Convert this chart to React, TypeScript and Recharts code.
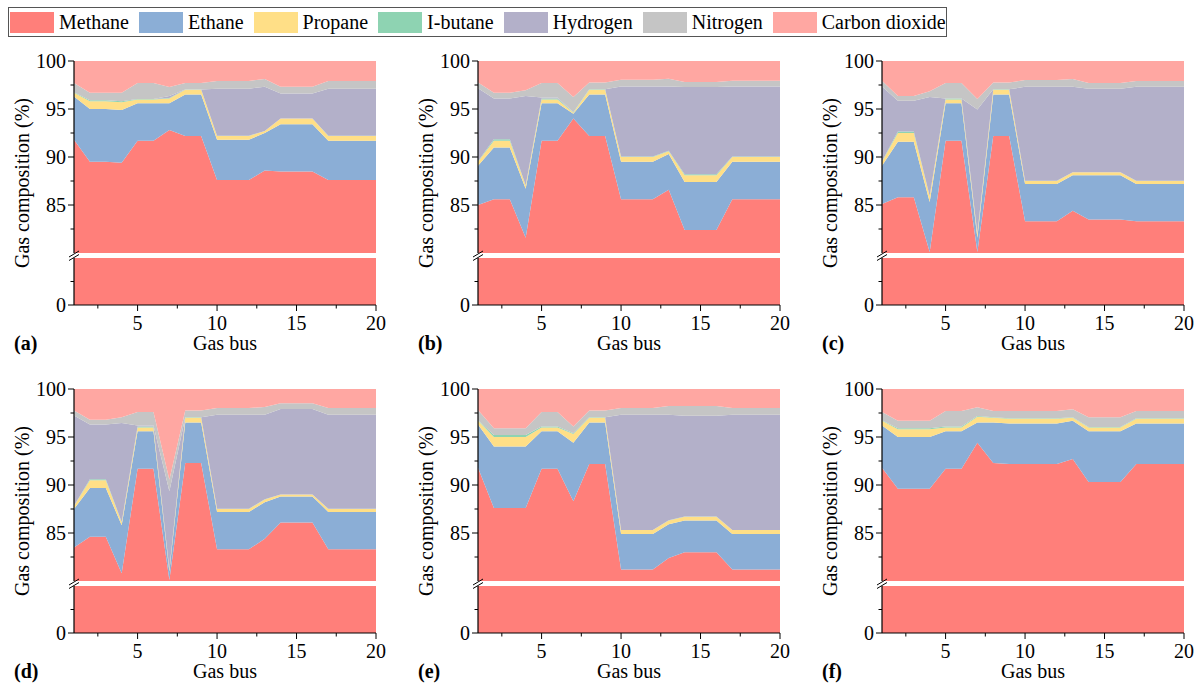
import React from "react";
import { AreaChart, Area, XAxis, YAxis } from "recharts";

const BUSES = [1, 2, 3, 4, 5, 6, 7, 8, 9, 10, 11, 12, 13, 14, 15, 16, 17, 18, 19, 20];

const GAS_KEYS = ["methane", "ethane", "propane", "ibutane", "hydrogen", "nitrogen", "co2"];
const GAS_NAMES = ["Methane", "Ethane", "Propane", "I-butane", "Hydrogen", "Nitrogen", "Carbon dioxide"];
const GAS_COLORS = ["#FF7F7A", "#8BAED6", "#FFDF87", "#8ED3B2", "#B3B0C9", "#C5C5C5", "#FFA7A2"];

const Y_TOP_TICKS = [82.5, 85, 87.5, 90, 92.5, 95, 97.5, 100];
const Y_LOW_TICKS = [0, 40];
const Y_LABELS = [0, 85, 90, 95, 100];
const X_TICKS = [2.5, 5, 7.5, 10, 12.5, 15, 17.5, 20];
const X_LABELS = [5, 10, 15, 20];

// (a)
const methaneA = [91.8, 89.5, 89.5, 89.4, 91.7, 91.7, 92.8, 92.2, 92.2, 87.6, 87.6, 87.6, 88.6, 88.5, 88.5, 88.5, 87.6, 87.6, 87.6, 87.6];
const ethaneA = [4.5, 5.5, 5.5, 5.5, 3.9, 3.9, 2.8, 4.3, 4.3, 4.2, 4.2, 4.2, 3.9, 4.9, 4.9, 4.9, 4.1, 4.1, 4.1, 4.1];
const propaneA = [0.4, 0.8, 0.8, 0.8, 0.4, 0.4, 0.5, 0.5, 0.5, 0.4, 0.4, 0.4, 0.2, 0.6, 0.6, 0.6, 0.5, 0.5, 0.5, 0.5];
const ibutaneA = [0.05, 0.1, 0.1, 0.1, 0.05, 0.05, 0.05, 0.02, 0.02, 0.02, 0.02, 0.02, 0.02, 0.02, 0.02, 0.02, 0.02, 0.02, 0.02, 0.02];
const hydrogenA = [0, 0, 0, 0, 0, 0, 0.2, 0, 0, 4.9, 4.9, 4.9, 4.6, 2.6, 2.6, 2.6, 4.9, 4.9, 4.9, 4.9];
const nitrogenA = [0.95, 0.8, 0.8, 0.9, 1.65, 1.65, 0.95, 0.7, 0.7, 0.8, 0.8, 0.8, 0.8, 0.7, 0.7, 0.7, 0.8, 0.8, 0.8, 0.8];
const co2A = [2.3, 3.3, 3.3, 3.3, 2.3, 2.3, 2.7, 2.3, 2.3, 2.1, 2.1, 2.1, 1.9, 2.7, 2.7, 2.7, 2.1, 2.1, 2.1, 2.1];

// (b)
const methaneB = [85.0, 85.6, 85.6, 81.6, 91.7, 91.7, 94.0, 92.2, 92.2, 85.6, 85.6, 85.6, 86.6, 82.4, 82.4, 82.4, 85.6, 85.6, 85.6, 85.6];
const ethaneB = [4.1, 5.4, 5.4, 5.1, 3.9, 3.9, 0.5, 4.3, 4.3, 3.9, 3.9, 3.9, 3.7, 5.0, 5.0, 5.0, 3.9, 3.9, 3.9, 3.9];
const propaneB = [0.4, 0.7, 0.7, 0.3, 0.4, 0.4, 0.1, 0.5, 0.5, 0.5, 0.5, 0.5, 0.3, 0.7, 0.7, 0.7, 0.5, 0.5, 0.5, 0.5];
const ibutaneB = [0.05, 0.15, 0.15, 0.05, 0.1, 0.1, 0.05, 0.05, 0.05, 0.05, 0.05, 0.05, 0.05, 0.1, 0.1, 0.1, 0.05, 0.05, 0.05, 0.05];
const hydrogenB = [7.6, 4.25, 4.25, 9.3, 0.1, 0.1, 0, 0, 0, 7.3, 7.3, 7.3, 6.7, 9.1, 9.1, 9.1, 7.3, 7.3, 7.3, 7.3];
const nitrogenB = [0.6, 0.6, 0.6, 0.6, 1.5, 1.5, 1.6, 0.7, 0.7, 0.7, 0.7, 0.7, 0.8, 0.5, 0.5, 0.5, 0.6, 0.6, 0.6, 0.6];
const co2B = [2.3, 3.3, 3.3, 3.1, 2.3, 2.3, 3.8, 2.3, 2.3, 2.0, 2.0, 2.0, 1.9, 2.2, 2.2, 2.2, 2.1, 2.1, 2.1, 2.1];

// (c)
const methaneC = [85.1, 85.8, 85.8, 80.1, 91.7, 91.7, 80.1, 92.2, 92.2, 83.3, 83.3, 83.3, 84.4, 83.5, 83.5, 83.5, 83.3, 83.3, 83.3, 83.3];
const ethaneC = [4.0, 5.8, 5.8, 5.2, 3.9, 3.9, 1.5, 4.3, 4.3, 3.9, 3.9, 3.9, 3.7, 4.6, 4.6, 4.6, 3.9, 3.9, 3.9, 3.9];
const propaneC = [0.4, 0.9, 0.9, 0.6, 0.4, 0.4, 0.4, 0.5, 0.5, 0.3, 0.3, 0.3, 0.3, 0.3, 0.3, 0.3, 0.3, 0.3, 0.3, 0.3];
const ibutaneC = [0.05, 0.15, 0.15, 0.05, 0.1, 0.1, 0.05, 0.05, 0.05, 0.02, 0.02, 0.02, 0.02, 0.02, 0.02, 0.02, 0.02, 0.02, 0.02, 0.02];
const hydrogenC = [7.8, 3.2, 3.2, 10.3, 0, 0, 12.9, 0, 0, 9.8, 9.8, 9.8, 8.9, 8.7, 8.7, 8.7, 9.8, 9.8, 9.8, 9.8];
const nitrogenC = [0.6, 0.5, 0.5, 0.6, 1.6, 1.6, 1.1, 0.7, 0.7, 0.7, 0.7, 0.7, 0.8, 0.6, 0.6, 0.6, 0.6, 0.6, 0.6, 0.6];
const co2C = [2.1, 3.7, 3.7, 3.2, 2.3, 2.3, 4.0, 2.3, 2.3, 2.0, 2.0, 2.0, 1.9, 2.3, 2.3, 2.3, 2.1, 2.1, 2.1, 2.1];

// (d)
const methaneD = [83.5, 84.6, 84.6, 80.8, 91.7, 91.7, 80.1, 92.3, 92.3, 83.3, 83.3, 83.3, 84.4, 86.1, 86.1, 86.1, 83.3, 83.3, 83.3, 83.3];
const ethaneD = [4.0, 5.1, 5.1, 5.0, 3.9, 3.9, 0.9, 4.2, 4.2, 3.9, 3.9, 3.9, 3.8, 2.7, 2.7, 2.7, 3.9, 3.9, 3.9, 3.9];
const propaneD = [0.3, 0.8, 0.8, 0.3, 0.4, 0.4, 0.2, 0.5, 0.5, 0.3, 0.3, 0.3, 0.3, 0.2, 0.2, 0.2, 0.3, 0.3, 0.3, 0.3];
const ibutaneD = [0.05, 0.1, 0.1, 0.05, 0.1, 0.1, 0.05, 0.05, 0.05, 0.02, 0.02, 0.02, 0.02, 0.02, 0.02, 0.02, 0.02, 0.02, 0.02, 0.02];
const hydrogenD = [9.4, 5.7, 5.7, 10.3, 0.1, 0.1, 8.1, 0, 0, 9.8, 9.8, 9.8, 8.8, 8.9, 8.9, 8.9, 9.8, 9.8, 9.8, 9.8];
const nitrogenD = [0.5, 0.5, 0.5, 0.6, 1.4, 1.4, 1.2, 0.7, 0.7, 0.7, 0.7, 0.7, 0.8, 0.6, 0.6, 0.6, 0.7, 0.7, 0.7, 0.7];
const co2D = [2.3, 3.2, 3.2, 3.0, 2.4, 2.4, 9.5, 2.3, 2.3, 2.0, 2.0, 2.0, 1.9, 1.5, 1.5, 1.5, 2.0, 2.0, 2.0, 2.0];

// (e)
const methaneE = [91.8, 87.6, 87.6, 87.6, 91.7, 91.7, 88.3, 92.2, 92.2, 81.2, 81.2, 81.2, 82.4, 83.0, 83.0, 83.0, 81.2, 81.2, 81.2, 81.2];
const ethaneE = [4.5, 6.4, 6.4, 6.4, 3.9, 3.9, 6.1, 4.3, 4.3, 3.7, 3.7, 3.7, 3.5, 3.3, 3.3, 3.3, 3.7, 3.7, 3.7, 3.7];
const propaneE = [0.4, 1.0, 1.0, 1.0, 0.4, 0.4, 0.9, 0.5, 0.5, 0.4, 0.4, 0.4, 0.4, 0.4, 0.4, 0.4, 0.4, 0.4, 0.4, 0.4];
const ibutaneE = [0.05, 0.2, 0.2, 0.2, 0.1, 0.1, 0.1, 0.05, 0.05, 0.02, 0.02, 0.02, 0.02, 0.02, 0.02, 0.02, 0.02, 0.02, 0.02, 0.02];
const hydrogenE = [0, 0, 0, 0, 0, 0, 0, 0, 0, 12.0, 12.0, 12.0, 11.0, 10.5, 10.5, 10.5, 12.0, 12.0, 12.0, 12.0];
const nitrogenE = [1.05, 0.7, 0.7, 0.7, 1.5, 1.5, 0.7, 0.7, 0.7, 0.7, 0.7, 0.7, 0.9, 1.0, 1.0, 1.0, 0.7, 0.7, 0.7, 0.7];
const co2E = [2.2, 4.1, 4.1, 4.1, 2.4, 2.4, 3.9, 2.3, 2.3, 2.0, 2.0, 2.0, 1.8, 1.8, 1.8, 1.8, 2.0, 2.0, 2.0, 2.0];

// (f)
const methaneF = [91.8, 89.6, 89.6, 89.6, 91.7, 91.7, 94.4, 92.3, 92.2, 92.2, 92.2, 92.2, 92.7, 90.3, 90.3, 90.3, 92.2, 92.2, 92.2, 92.2];
const ethaneF = [4.4, 5.4, 5.4, 5.4, 3.9, 3.9, 2.1, 4.2, 4.2, 4.2, 4.2, 4.2, 4.0, 5.3, 5.3, 5.3, 4.2, 4.2, 4.2, 4.2];
const propaneF = [0.5, 0.8, 0.8, 0.8, 0.4, 0.4, 0.6, 0.5, 0.5, 0.5, 0.5, 0.5, 0.3, 0.4, 0.4, 0.4, 0.5, 0.5, 0.5, 0.5];
const ibutaneF = [0.05, 0.1, 0.1, 0.1, 0.1, 0.1, 0.1, 0.05, 0.05, 0.05, 0.05, 0.05, 0.05, 0.05, 0.05, 0.05, 0.05, 0.05, 0.05, 0.05];
const hydrogenF = [0, 0, 0, 0, 0, 0, 0, 0, 0, 0, 0, 0, 0, 0, 0, 0, 0, 0, 0, 0];
const nitrogenF = [0.85, 0.8, 0.8, 0.8, 1.6, 1.6, 0.9, 0.65, 0.75, 0.75, 0.75, 0.75, 0.85, 1.0, 1.0, 1.0, 0.75, 0.75, 0.75, 0.75];
const co2F = [2.4, 3.3, 3.3, 3.3, 2.3, 2.3, 1.9, 2.3, 2.3, 2.3, 2.3, 2.3, 2.1, 3.0, 3.0, 3.0, 2.3, 2.3, 2.3, 2.3];

const FONT = '"Liberation Serif", "Times New Roman", serif';
const PLOT_W = 302;
const TOP_H = 192;
const GAP = 5;
const LOW_H = 47;
const AXIS_W = 60;
const TOP_PAD = 16;

function buildRows(series: number[][]) {
  return BUSES.map((bus, i) => {
    const row: Record<string, number> = { bus };
    GAS_KEYS.forEach((k, j) => {
      row[k] = series[j][i];
    });
    return row;
  });
}

const PANELS = [
  { letter: "(a)", left: 74, top: 61, rows: buildRows([methaneA, ethaneA, propaneA, ibutaneA, hydrogenA, nitrogenA, co2A]) },
  { letter: "(b)", left: 478, top: 61, rows: buildRows([methaneB, ethaneB, propaneB, ibutaneB, hydrogenB, nitrogenB, co2B]) },
  { letter: "(c)", left: 882, top: 61, rows: buildRows([methaneC, ethaneC, propaneC, ibutaneC, hydrogenC, nitrogenC, co2C]) },
  { letter: "(d)", left: 74, top: 389, rows: buildRows([methaneD, ethaneD, propaneD, ibutaneD, hydrogenD, nitrogenD, co2D]) },
  { letter: "(e)", left: 478, top: 389, rows: buildRows([methaneE, ethaneE, propaneE, ibutaneE, hydrogenE, nitrogenE, co2E]) },
  { letter: "(f)", left: 882, top: 389, rows: buildRows([methaneF, ethaneF, propaneF, ibutaneF, hydrogenF, nitrogenF, co2F]) },
];

function YTick(props: any) {
  const { x, y, payload } = props;
  const major = Y_LABELS.includes(payload.value);
  return (
    <g>
      <line x1={x - (major ? 6 : 3.5)} x2={x} y1={y} y2={y} stroke="#000" strokeWidth={1} />
      {major && (
        <text x={x - 8} y={y} dy="0.35em" textAnchor="end" fontSize={20} fontFamily={FONT} fill="#000">
          {payload.value}
        </text>
      )}
    </g>
  );
}

function XTick(props: any) {
  const { x, y, payload } = props;
  const major = X_LABELS.includes(payload.value);
  return (
    <g>
      <line x1={x} x2={x} y1={y} y2={y + (major ? 6 : 3.5)} stroke="#000" strokeWidth={1} />
      {major && (
        <text x={x} y={y + 25} textAnchor="middle" fontSize={20} fontFamily={FONT} fill="#000">
          {payload.value}
        </text>
      )}
    </g>
  );
}

function Stack() {
  return GAS_KEYS.map((k, i) => (
    <Area
      key={k}
      type="linear"
      dataKey={k}
      stackId="gas"
      stroke="none"
      fill={GAS_COLORS[i]}
      fillOpacity={1}
      dot={false}
      activeDot={false}
      isAnimationActive={false}
    />
  ));
}

function Panel({ left, top, rows }: { left: number; top: number; rows: Record<string, number>[] }) {
  return (
    <>
      <div style={{ position: "absolute", left: left - AXIS_W, top: top - TOP_PAD }}>
        <AreaChart width={AXIS_W + PLOT_W + 10} height={TOP_PAD + TOP_H} data={rows} margin={{ top: TOP_PAD, right: 10, bottom: 0, left: 0 }}>
          <XAxis dataKey="bus" type="number" domain={[1, 20]} hide />
          <YAxis
            type="number"
            domain={[80, 100]}
            allowDataOverflow
            ticks={Y_TOP_TICKS}
            interval={0}
            width={AXIS_W}
            tickSize={0}
            tickMargin={0}
            tickLine={false}
            tick={<YTick />}
            axisLine={{ stroke: "#000", strokeWidth: 1.2 }}
          />
          {Stack()}
        </AreaChart>
      </div>
      <div style={{ position: "absolute", left: left - AXIS_W, top: top + TOP_H + GAP }}>
        <AreaChart width={AXIS_W + PLOT_W + 10} height={LOW_H + 40} data={rows} margin={{ top: 0, right: 10, bottom: 0, left: 0 }}>
          <XAxis
            dataKey="bus"
            type="number"
            domain={[1, 20]}
            ticks={X_TICKS}
            interval={0}
            height={40}
            tickSize={0}
            tickMargin={0}
            tickLine={false}
            tick={<XTick />}
            axisLine={{ stroke: "#000", strokeWidth: 1.2 }}
          />
          <YAxis
            type="number"
            domain={[0, 80]}
            allowDataOverflow
            ticks={Y_LOW_TICKS}
            interval={0}
            width={AXIS_W}
            tickSize={0}
            tickMargin={0}
            tickLine={false}
            tick={<YTick />}
            axisLine={{ stroke: "#000", strokeWidth: 1.2 }}
          />
          {Stack()}
        </AreaChart>
      </div>
    </>
  );
}

function Legend() {
  return (
    <div
      style={{
        position: "absolute",
        left: 8,
        top: 7,
        width: 939,
        height: 30,
        boxSizing: "border-box",
        border: "1.5px solid #555",
        display: "flex",
        alignItems: "center",
        paddingLeft: 1,
        fontFamily: FONT,
        fontSize: 20,
        color: "#000",
        whiteSpace: "nowrap",
      }}
    >
      {GAS_NAMES.map((name, i) => (
        <div key={name} style={{ display: "flex", alignItems: "center", marginRight: 10 }}>
          <span style={{ display: "inline-block", width: 44, height: 21, background: GAS_COLORS[i], marginRight: 5 }} />
          <span>{name}</span>
        </div>
      ))}
    </div>
  );
}

export default function App() {
  const axisBottom = TOP_H + GAP + LOW_H;
  return (
    <div style={{ position: "absolute", left: 0, top: 0, width: 1202, height: 689, background: "#fff" }}>
      <Legend />
      {PANELS.map((p) => (
        <Panel key={p.letter} left={p.left} top={p.top} rows={p.rows} />
      ))}
      <svg width={1202} height={689} style={{ position: "absolute", left: 0, top: 0, pointerEvents: "none" }}>
        {PANELS.map((p) => {
          const gy = p.top + TOP_H + GAP / 2;
          const base = p.top + axisBottom;
          return (
            <g key={p.letter} fontFamily={FONT} fontSize={20} fill="#000">
              <line x1={p.left - 5} y1={gy + 1.5} x2={p.left + 5} y2={gy - 4.5} stroke="#000" strokeWidth={1} />
              <line x1={p.left - 5} y1={gy + 5} x2={p.left + 5} y2={gy - 1} stroke="#000" strokeWidth={1} />
              <text transform={`translate(${p.left - 52},${p.top + axisBottom / 2}) rotate(-90)`} textAnchor="middle" dy="0.33em">
                Gas composition (%)
              </text>
              <text x={p.left + PLOT_W / 2} y={base + 45} textAnchor="middle">
                Gas bus
              </text>
              <text x={p.left - 60} y={base + 45} fontWeight="bold">
                {p.letter}
              </text>
            </g>
          );
        })}
      </svg>
    </div>
  );
}
